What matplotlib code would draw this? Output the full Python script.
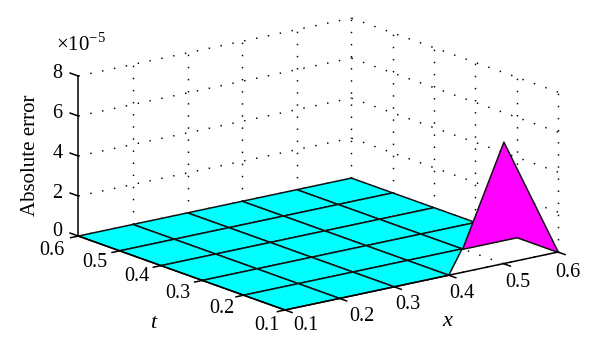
import matplotlib
matplotlib.use('Agg')
import matplotlib.pyplot as plt
from mpl_toolkits.mplot3d import proj3d
from mpl_toolkits.mplot3d.art3d import Poly3DCollection

# Data (error in units of 1e-5)
x_vals = [0.1, 0.2, 0.3, 0.4, 0.5, 0.6]
t_vals = [0.1, 0.2, 0.3, 0.4, 0.5, 0.6]
z_ticks = [0, 2, 4, 6, 8]
error = [
    [0, 0, 0, 0, 6.1, 0],
    [0, 0, 0, 0, 0, 0],
    [0, 0, 0, 0, 0, 0],
    [0, 0, 0, 0, 0, 0],
    [0, 0, 0, 0, 0, 0],
    [0, 0, 0, 0, 0, 0],
]

W, H = 600, 358
plt.rcParams['font.family'] = 'Liberation Serif'
plt.rcParams['mathtext.fontset'] = 'custom'
plt.rcParams['mathtext.rm'] = 'Liberation Serif'

fig = plt.figure(figsize=(W / 100, H / 100), dpi=100)
# axes much bigger than the figure, 3d artists get clipped to the axes box
ax = fig.add_axes([-1, -1, 3, 3], projection='3d', computed_zorder=False)
ax.set_proj_type('ortho')
ax.view_init(elev=16, azim=-127.6)
ax.set_xlim(0.1, 0.6)
ax.set_ylim(0.1, 0.6)
ax.set_zlim(0, 8)
ax.set_axis_off()
box = (344.7, 338.8, 166.5)
ax.set_box_aspect(box)


def to_pixel(x, t, z):
    # pixel position with the origin at the top left, like the picture
    ax.apply_aspect()
    px, py, _ = proj3d.proj_transform(x, t, z, ax.get_proj())
    u, v = ax.transData.transform((px, py))
    return u, H - v


# fit the box to the picture: x axis runs from (285,310) to (558,252)
u0, _ = to_pixel(0.1, 0.1, 0)
u1, _ = to_pixel(0.6, 0.1, 0)
ax.set_box_aspect(box, zoom=273 / (u1 - u0))
u0, v0 = to_pixel(0.1, 0.1, 0)
ax.set_position([-1 + (285 - u0) / W, -1 + (v0 - 310) / H, 3, 3])

# dotted grid on the floor and back walls
dots = dict(color='black', lw=1.05, ls=(0, (1, 7.3)), zorder=1)
x0, x1 = x_vals[0], x_vals[-1]
t0, t1 = t_vals[0], t_vals[-1]
for x in x_vals:
    ax.plot([x, x], [t0, t1], [0, 0], **dots)
    if x != x0:
        ax.plot([x, x], [t1, t1], [0, 8], **dots)
for t in t_vals:
    ax.plot([x0, x1], [t, t], [0, 0], **dots)
    if t != t1:
        ax.plot([x1, x1], [t, t], [0, 8], **dots)
for z in z_ticks[1:]:
    ax.plot([x0, x1], [t1, t1], [z, z], **dots)
    ax.plot([x1, x1], [t0, t1], [z, z], **dots)

# surface cells, the two next to the peak are special
flat, peak = [], []
for i in range(len(t_vals) - 1):
    for j in range(len(x_vals) - 1):
        cell = [(x_vals[j], t_vals[i], error[i][j]),
                (x_vals[j + 1], t_vals[i], error[i][j + 1]),
                (x_vals[j + 1], t_vals[i + 1], error[i + 1][j + 1]),
                (x_vals[j], t_vals[i + 1], error[i + 1][j])]
        if error[i][j] > 0:
            peak.append(cell)
        elif error[i][j + 1] > 0:
            flat.append([cell[0], cell[2], cell[3]])
        else:
            flat.append(cell)

ax.add_collection3d(Poly3DCollection(flat, facecolors='#00ffff', edgecolors='#111111',
                                     linewidths=1.1, zorder=2))
ax.add_collection3d(Poly3DCollection(peak, facecolors='#ff00ff', edgecolors='#111111',
                                     linewidths=1.1, zorder=3))

# axes lines and ticks
axis_line = dict(color='black', lw=1.1, zorder=4)
ax.plot([x0, x1], [t0, t0], [0, 0], **axis_line)
ax.plot([x0, x0], [t0, t1], [0, 0], **axis_line)
ax.plot([x0, x0], [t1, t1], [0, 8], **axis_line)
for x in x_vals:
    ax.plot([x, x], [t0, t0 - 0.017], [0, 0], **axis_line)
for t in t_vals:
    ax.plot([x0, x0 - 0.014], [t, t], [0, 0], **axis_line)
for z in z_ticks:
    ax.plot([x0, x0], [t1, t1 + 0.02], [z, z], **axis_line)


def label(s, pos, dx, dy, **kw):
    # text centred at an offset in pixels from a point of the box
    u, v = to_pixel(*pos)
    fig.text((u + dx) / W, 1 - (v + dy) / H, s, ha='center', va='center', **kw)


size = 14.5
x_off = [(21, 16), (22, 18), (14, 18), (13, 18), (14, 19), (10, 20)]
t_off = [(-18, 16), (-22, 13), (-25, 13), (-24, 11), (-25, 12), (-26, 14)]
z_off = [-5, -3, -3, -3, -3]
for x, off in zip(x_vals, x_off):
    label(f'{x:.1f}', (x, t0, 0), off[0], off[1], fontsize=size)
for t, off in zip(t_vals, t_off):
    label(f'{t:.1f}', (x0, t, 0), off[0], off[1], fontsize=size)
for z, off in zip(z_ticks, z_off):
    label(str(z), (x0, t1, z), -21, off, fontsize=size)

label('Absolute error', (x0, t1, 4), -48, -1, fontsize=15, rotation=90)
label('$\\times10^{-5}$', (x0, t1, 8), 3, -32, fontsize=15)
label('t', (x0, t0, 0), -132, 13, fontsize=16, style='italic')
label('x', (x0, t0, 0), 162, 12, fontsize=16, style='italic')

fig.savefig('out.png', dpi=100)
